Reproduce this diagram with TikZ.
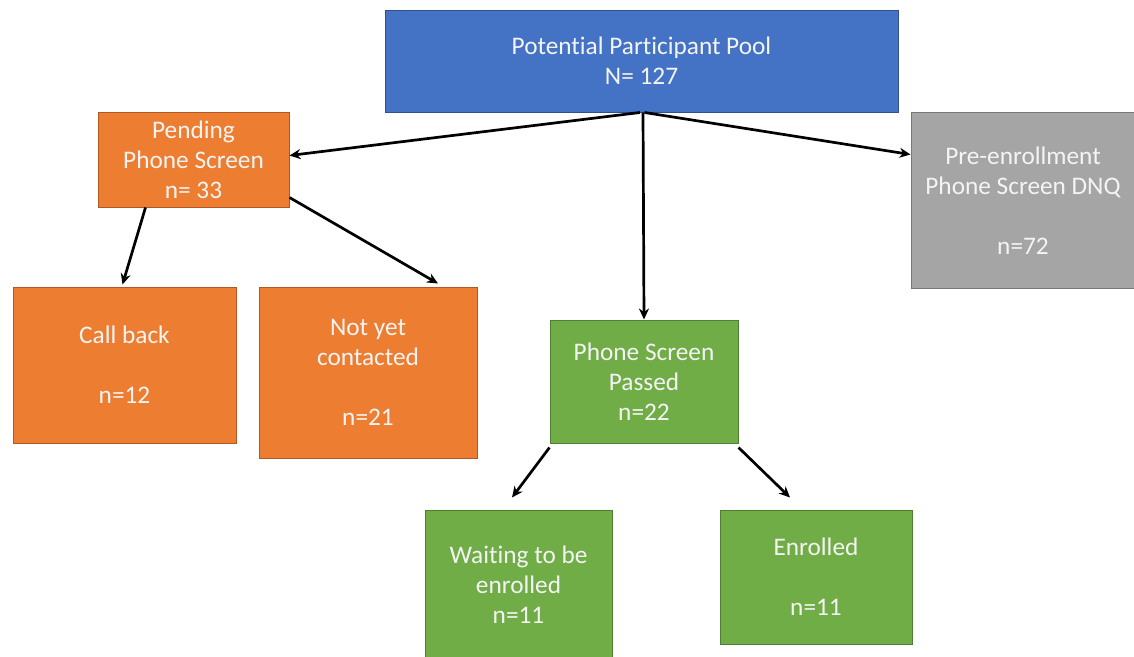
\documentclass[tikz,border=0pt]{standalone}
\usepackage{fontspec}
\setmainfont[RawFeature={-liga;-clig;-calt;-dlig}]{Carlito}
\usetikzlibrary{arrows.meta}
\definecolor{cblue}{HTML}{4472C4}
\definecolor{cblueb}{HTML}{2F528F}
\definecolor{corange}{HTML}{ED7D31}
\definecolor{corangeb}{HTML}{AE5A21}
\definecolor{cgray}{HTML}{A5A5A5}
\definecolor{cgrayb}{HTML}{787878}
\definecolor{cgreen}{HTML}{70AD47}
\definecolor{cgreenb}{HTML}{507E32}
\definecolor{ctext}{HTML}{F4F4F4}
\tikzset{
  box/.style={rectangle, inner sep=0pt, align=center, text=ctext, line width=1pt,
    font=\fontsize{25.3}{30}\selectfont},
  bluebox/.style={box, fill=cblue, draw=cblueb},
  orangebox/.style={box, fill=corange, draw=corangeb},
  graybox/.style={box, fill=cgray, draw=cgrayb},
  greenbox/.style={box, fill=cgreen, draw=cgreenb},
  arr/.style={line width=2.7pt, -{Stealth[length=11pt,width=10pt]}}
}
\begin{document}
\begin{tikzpicture}[x=1pt,y=-1pt]
\useasboundingbox (0,0) rectangle (1134,656);
\begin{scope}
\clip (0,0) rectangle (1134,656);
\node[bluebox, minimum width=513pt, minimum height=102pt] (pool) at (641.5,61) {Potential Participant Pool\\N= 127};
\node[orangebox, minimum width=191pt, minimum height=95pt] (pending) at (193.5,159.5) {Pending\\Phone Screen\\n= 33};
\node[orangebox, minimum width=223pt, minimum height=156pt] (callback) at (124.5,365) {Call back\\[30pt]n=12};
\node[orangebox, minimum width=218pt, minimum height=171pt] (notyet) at (368,372.5) {Not yet\\contacted\\[30pt]n=21};
\node[graybox, minimum width=224pt, minimum height=176pt] (dnq) at (1023,200.5) {Pre-enrollment\\Phone Screen DNQ\\[30pt]n=72};
\node[greenbox, minimum width=188pt, minimum height=123pt] (passed) at (644,381.5) {Phone Screen\\Passed\\n=22};
\node[greenbox, minimum width=187pt, minimum height=150pt] (waiting) at (518.5,585) {Waiting to be\\enrolled\\n=11};
\node[greenbox, minimum width=192pt, minimum height=134pt] (enrolled) at (816,577) {Enrolled\\[30pt]n=11};
\end{scope}
\draw[arr] ([xshift=-1.5pt]pool.south) -- ([yshift=4pt]pending.east);
\draw[arr] ([xshift=3pt]pool.south) -- ([yshift=46pt]dnq.west);
\draw[arr] ([xshift=1.5pt]pool.south) -- (passed.north);
\draw[arr] ([xshift=-48pt]pending.south) -- ([xshift=-2pt,yshift=2pt]callback.north);
\draw[arr] ([yshift=10pt]pending.south east) -- ([xshift=70pt,yshift=3pt]notyet.north);
\draw[arr] ([yshift=-4pt]passed.south west) -- ([xshift=-6.5pt,yshift=12pt]waiting.north);
\draw[arr] ([yshift=-4pt]passed.south east) -- ([xshift=-26pt,yshift=12pt]enrolled.north);
\end{tikzpicture}
\end{document}
